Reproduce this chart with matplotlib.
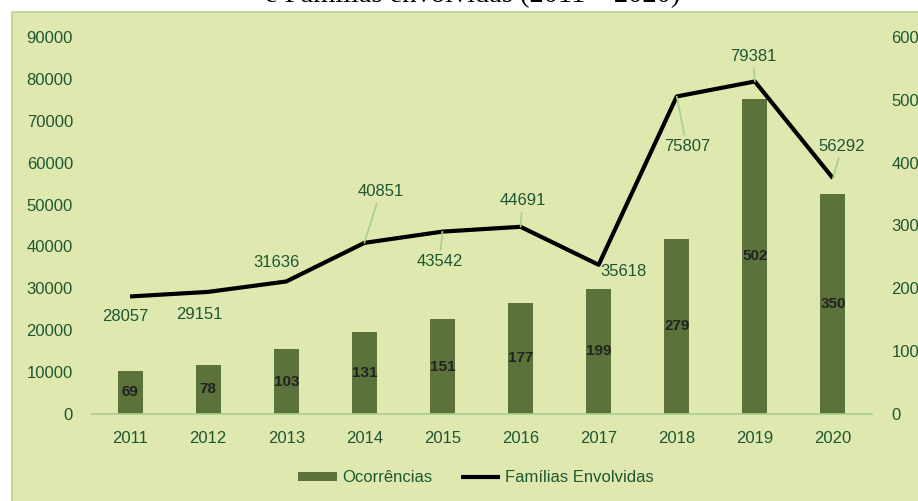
"""Ocorrências e famílias envolvidas, 2011-2020."""

import matplotlib.pyplot as plt
from matplotlib.patches import Rectangle

years = ["2011", "2012", "2013", "2014", "2015", "2016", "2017", "2018", "2019", "2020"]
ocorrencias = [69, 78, 103, 131, 151, 177, 199, 279, 502, 350]
familias = [28057, 29151, 31636, 40851, 43542, 44691, 35618, 75807, 79381, 56292]

# label offsets for the line values, in pixels (dx, dy up), and whether a leader is drawn
label_offsets = [(-5, -20), (-9, -23), (-10, 19), (16, 51), (-3, -30),
                 (2, 26), (25, -7), (10, -50), (-2, 25), (9, 32)]
leaders = [False, False, False, True, True, True, False, True, True, True]

BG = "#DFE9AF"
BORDER = "#B9D48F"
BAR = "#5B733A"
TXT = "#1E5632"
LEADER = "#A8CF8A"

plt.rcParams["font.family"] = ["Liberation Sans", "DejaVu Sans"]

fig = plt.figure(figsize=(9.18, 5.01), dpi=100)
fig.patch.set_facecolor("white")
fig.patches.append(Rectangle((12 / 918, -0.01), 1.0, 1 - 12 / 501 + 0.01,
                             transform=fig.transFigure, facecolor=BG,
                             edgecolor=BORDER, linewidth=1.2, zorder=-5))

fig.text(473 / 918, 1 - 2 / 501, "e Famílias envolvidas (2011 – 2020)",
         family="Liberation Serif", fontsize=20.5, ha="center", va="baseline",
         color="black")

ax = fig.add_axes([91 / 918, 1 - 414 / 501, 781 / 918, 377 / 501])
ax.set_facecolor("none")
x = list(range(len(years)))

# bars on the right-hand scale
ax.bar(x, ocorrencias, width=0.32, color=BAR, zorder=2, label="Ocorrências")
for xi, v in zip(x, ocorrencias):
    ax.text(xi, v / 2, str(v), ha="center", va="center", fontsize=11,
            fontweight="bold", color="#222222", zorder=3)
ax.set_ylim(0, 600)
ax.set_yticks(range(0, 601, 100))
ax.set_xlim(-0.5, len(years) - 0.5)
ax.set_xticks(x)
ax.set_xticklabels(years)

# line on the left-hand scale
ax2 = ax.twinx()
ax2.plot(x, familias, color="black", linewidth=3, solid_capstyle="butt",
         zorder=4, label="Famílias Envolvidas")
ax2.set_ylim(0, 90000)
ax2.set_yticks(range(0, 90001, 10000))
ax2.yaxis.tick_left()
ax.yaxis.tick_right()

for xi, v, (dx, dy), lead in zip(x, familias, label_offsets, leaders):
    props = None
    if lead:
        props = dict(arrowstyle="-", color=LEADER, lw=1.2, shrinkA=1, shrinkB=0)
    ax2.annotate(str(v), xy=(xi, v), xytext=(dx, dy), textcoords="offset pixels",
                 ha="center", va="center", fontsize=12, color=TXT,
                 arrowprops=props, zorder=5)

for a in (ax, ax2):
    for s in a.spines.values():
        s.set_visible(False)
    a.tick_params(length=0, labelsize=12, labelcolor=TXT)
ax.spines["bottom"].set_visible(True)
ax.spines["bottom"].set_color(LEADER)
ax.spines["bottom"].set_linewidth(1.2)
ax.tick_params(axis="x", pad=12)
ax.tick_params(axis="y", pad=14)
ax2.tick_params(axis="y", pad=13)

h1, l1 = ax.get_legend_handles_labels()
h2, l2 = ax2.get_legend_handles_labels()
fig.legend(h1 + h2, l1 + l2, loc="center", bbox_to_anchor=(476 / 918, 1 - 478 / 501),
           ncol=2, frameon=False, fontsize=12, labelcolor=TXT,
           handlelength=2.35, handleheight=0.45, handletextpad=0.3,
           columnspacing=1.75)

fig.savefig("out.png", dpi=100)
